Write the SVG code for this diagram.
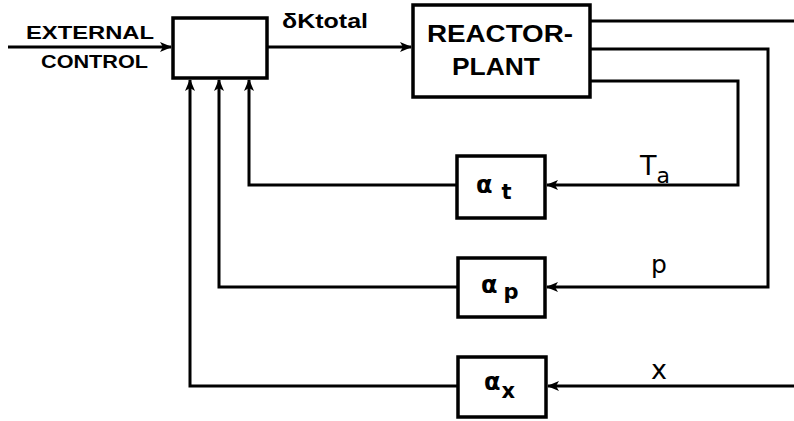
<svg xmlns="http://www.w3.org/2000/svg" width="794" height="421" viewBox="0 0 794 421">
<defs>
<marker id="arr" markerUnits="userSpaceOnUse" markerWidth="12" markerHeight="10" refX="11" refY="5" orient="auto">
<path d="M0,0 L12,5 L0,10 L3,5 z" fill="#000"/>
</marker>
<style>
.box{fill:#fff;stroke:#000;stroke-width:3.5}
.ln{fill:none;stroke:#000;stroke-width:3;stroke-linejoin:miter}
.ar{marker-end:url(#arr)}
.lb{font-family:"Liberation Sans",Arial,sans-serif;font-weight:bold;fill:#000}
.sym{font-family:"DejaVu Sans","Liberation Sans",sans-serif;fill:#000}
</style>
</defs>
<rect width="794" height="421" fill="#fff"/>
<g id="connectors">
<path class="ln ar" d="M8,47 H171"/>
<path class="ln ar" d="M267,47 H411"/>
<path class="ln" d="M590,21 H794"/>
<path class="ln ar" d="M590,49 H768 V287 H547"/>
<path class="ln ar" d="M590,81 H738 V185 H547"/>
<path class="ln ar" d="M794,386 H548"/>
<path class="ln ar" d="M457,185 H249 V80"/>
<path class="ln ar" d="M458,287 H219 V80"/>
<path class="ln ar" d="M458,386 H190 V80"/>
</g>
<g id="labels">
<text class="lb" x="26" y="39" font-size="18.5" textLength="128" lengthAdjust="spacingAndGlyphs">EXTERNAL</text>
<text class="lb" x="41" y="68" font-size="18.5" textLength="107" lengthAdjust="spacingAndGlyphs">CONTROL</text>
<text class="lb" x="282" y="28" font-size="20" textLength="86" lengthAdjust="spacingAndGlyphs">δKtotal</text>
<text class="sym" x="640" y="175" font-size="27">T<tspan font-size="22" dy="8">a</tspan></text>
<text class="sym" x="651" y="273" font-size="25">p</text>
<text class="sym" x="651" y="379" font-size="27">x</text>
</g>
<g id="control">
<rect class="box" x="173" y="18" width="94" height="60"/>
</g>
<g id="reactor">
<rect class="box" x="413" y="5" width="177" height="92"/>
<text class="lb" x="427" y="42" font-size="24" textLength="146" lengthAdjust="spacingAndGlyphs">REACTOR-</text>
<text class="lb" x="452" y="75" font-size="24" textLength="88" lengthAdjust="spacingAndGlyphs">PLANT</text>
</g>
<g id="alpha-t">
<rect class="box" x="457" y="156" width="88" height="62"/>
<text class="sym" x="476" y="193" font-size="24" font-weight="bold">α<tspan font-size="21" dx="9" dy="6">t</tspan></text>
</g>
<g id="alpha-p">
<rect class="box" x="458" y="258" width="87" height="59"/>
<text class="sym" x="481" y="293" font-size="24" font-weight="bold">α<tspan font-size="21" dx="6" dy="6">p</tspan></text>
</g>
<g id="alpha-x">
<rect class="box" x="458" y="357" width="88" height="60"/>
<text class="sym" x="484" y="390" font-size="24" font-weight="bold">α<tspan font-size="21" dx="1" dy="8">x</tspan></text>
</g>
</svg>
